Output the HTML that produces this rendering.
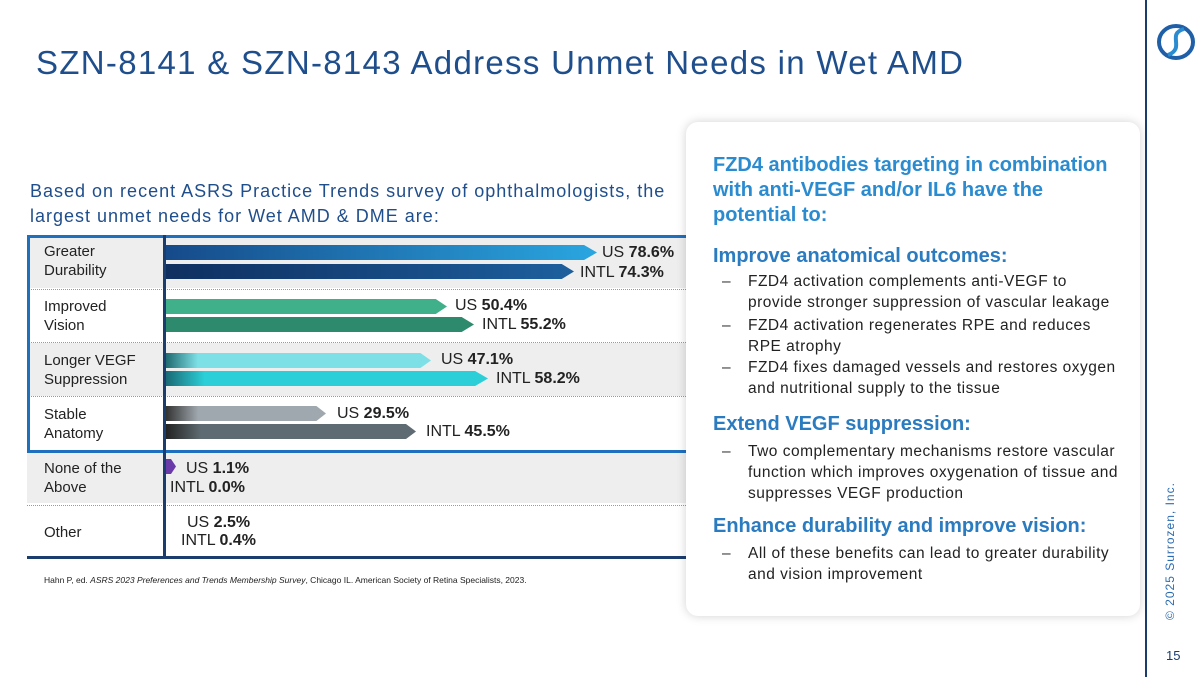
<!DOCTYPE html>
<html><head><meta charset="utf-8"><style>
*{margin:0;padding:0;box-sizing:border-box}
body{width:1200px;height:677px;background:#fff;position:relative;overflow:hidden;font-family:"Liberation Sans",sans-serif}
.a{position:absolute}
h1{position:absolute;left:36px;top:44px;font-size:33px;font-weight:400;color:#1f4e8c;letter-spacing:1.3px;white-space:nowrap}
.lbl{position:absolute;left:44px;font-size:15px;color:#222;line-height:19px}
.val{position:absolute;font-size:16px;color:#222;white-space:nowrap}
.val b{font-weight:700}
.bar{position:absolute;left:166px;height:15px}
.band{position:absolute;left:27px;width:673px}
.dot{position:absolute;left:27px;width:673px;border-top:1px dotted #999}
.card{position:absolute;left:686px;top:122px;width:454px;height:494px;background:#fff;border-radius:12px;box-shadow:0 0 10px rgba(0,0,0,.18)}
.h{position:absolute;left:713px;color:#2a8bd0;font-weight:700;font-size:20px;line-height:25px;white-space:nowrap}
.t{position:absolute;left:748px;font-size:15.5px;letter-spacing:0.5px;color:#222;line-height:21px;width:378px}
.t:before{content:"–";position:absolute;left:-26px;color:#333}
</style></head><body>
<h1>SZN-8141 &amp; SZN-8143 Address Unmet Needs in Wet AMD</h1>
<div class="a" style="left:1145px;top:0;width:2px;height:677px;background:#1b3d6e"></div>
<svg class="a" style="left:1156px;top:22px" width="40" height="40" viewBox="0 0 40 40"><ellipse cx="20" cy="20" rx="17" ry="16" fill="none" stroke="#1f5fa8" stroke-width="4"/><path d="M28 7 C10 12 30 26 12 33" fill="none" stroke="#2a8bd0" stroke-width="4"/></svg>
<div class="a" style="left:1163px;top:620px;transform:rotate(-90deg);transform-origin:0 0;font-size:12px;color:#2a6bb0;white-space:nowrap;letter-spacing:1px">© 2025 Surrozen, Inc.</div>
<div class="a" style="left:1166px;top:648px;font-size:13px;color:#1b3d6e">15</div>

<div class="a" style="left:30px;top:179px;font-size:18px;letter-spacing:1px;color:#1f4e8c;line-height:25px;white-space:nowrap">Based on recent ASRS Practice Trends survey of ophthalmologists, the<br>largest unmet needs for Wet AMD &amp; DME are:</div>

<div class="band" style="top:236px;height:52px;background:#eee"></div>
<div class="band" style="top:343px;height:53px;background:#eee"></div>
<div class="band" style="top:452px;height:51px;background:#eee"></div>
<div class="dot" style="top:289px"></div><div class="dot" style="top:342px"></div><div class="dot" style="top:396px"></div><div class="dot" style="top:505px"></div>
<div class="a" style="left:27px;top:235px;width:673px;height:3px;background:#1f6fbf"></div>
<div class="a" style="left:27px;top:235px;width:3px;height:217px;background:#1f6fbf"></div>
<div class="a" style="left:27px;top:450px;width:673px;height:3px;background:#1f6fbf"></div>
<div class="a" style="left:27px;top:556px;width:673px;height:3px;background:#1b3d6e"></div>
<div class="a" style="left:163px;top:235px;width:3px;height:322px;background:#1b3d6e"></div>

<div class="lbl" style="top:242px">Greater<br>Durability</div>
<div class="lbl" style="top:297px">Improved<br>Vision</div>
<div class="lbl" style="top:351px">Longer VEGF<br>Suppression</div>
<div class="lbl" style="top:405px">Stable<br>Anatomy</div>
<div class="lbl" style="top:459px">None of the<br>Above</div>
<div class="lbl" style="top:523px">Other</div>

<div class="bar" style="top:245px;width:431px;background:linear-gradient(90deg,#164a8a,#2aa6e0);clip-path:polygon(0 0,97% 0,100% 50%,97% 100%,0 100%)"></div>
<div class="bar" style="top:264px;width:408px;background:linear-gradient(90deg,#0f2f60,#1d5f9e);clip-path:polygon(0 0,97% 0,100% 50%,97% 100%,0 100%)"></div>
<div class="bar" style="top:299px;width:281px;background:#3fb08a;clip-path:polygon(0 0,96% 0,100% 50%,96% 100%,0 100%)"></div>
<div class="bar" style="top:317px;width:308px;background:#2e8a6c;clip-path:polygon(0 0,96% 0,100% 50%,96% 100%,0 100%)"></div>
<div class="bar" style="top:353px;width:265px;background:linear-gradient(90deg,#1f6a70,#7de0e6 12%);clip-path:polygon(0 0,96% 0,100% 50%,96% 100%,0 100%)"></div>
<div class="bar" style="top:371px;width:322px;background:linear-gradient(90deg,#1a6a75,#2ccfd8 12%);clip-path:polygon(0 0,96% 0,100% 50%,96% 100%,0 100%)"></div>
<div class="bar" style="top:406px;width:160px;background:linear-gradient(90deg,#333,#9fa8ae 20%);clip-path:polygon(0 0,94% 0,100% 50%,94% 100%,0 100%)"></div>
<div class="bar" style="top:424px;width:250px;background:linear-gradient(90deg,#222,#5e6b72 14%);clip-path:polygon(0 0,96% 0,100% 50%,96% 100%,0 100%)"></div>
<div class="bar" style="top:459px;width:10px;background:#6a3aa8;clip-path:polygon(0 0,50% 0,100% 50%,50% 100%,0 100%)"></div>

<div class="val" style="left:602px;top:244px">US <b>78.6%</b></div>
<div class="val" style="left:580px;top:264px">INTL <b>74.3%</b></div>
<div class="val" style="left:455px;top:297px">US <b>50.4%</b></div>
<div class="val" style="left:482px;top:316px">INTL <b>55.2%</b></div>
<div class="val" style="left:441px;top:351px">US <b>47.1%</b></div>
<div class="val" style="left:496px;top:370px">INTL <b>58.2%</b></div>
<div class="val" style="left:337px;top:405px">US <b>29.5%</b></div>
<div class="val" style="left:426px;top:423px">INTL <b>45.5%</b></div>
<div class="val" style="left:186px;top:460px">US <b>1.1%</b></div>
<div class="val" style="left:170px;top:479px">INTL <b>0.0%</b></div>
<div class="val" style="left:187px;top:514px">US <b>2.5%</b></div>
<div class="val" style="left:181px;top:532px">INTL <b>0.4%</b></div>

<div class="a" style="left:44px;top:575px;font-size:8.5px;color:#222">Hahn P, ed. <i>ASRS 2023 Preferences and Trends Membership Survey</i>, Chicago IL. American Society of Retina Specialists, 2023.</div>

<div class="card"></div>
<div class="h" style="top:153px">FZD4 antibodies targeting in combination<br>with anti-VEGF and/or IL6 have the<br>potential to:</div>
<div class="h" style="top:244px;color:#2a7bc0">Improve anatomical outcomes:</div>
<div class="t" style="top:271px">FZD4 activation complements anti-VEGF to provide stronger suppression of vascular leakage</div>
<div class="t" style="top:315px">FZD4 activation regenerates RPE and reduces RPE atrophy</div>
<div class="t" style="top:357px">FZD4 fixes damaged vessels and restores oxygen and nutritional supply to the tissue</div>
<div class="h" style="top:412px;color:#2a7bc0">Extend VEGF suppression:</div>
<div class="t" style="top:441px">Two complementary mechanisms restore vascular function which improves oxygenation of tissue and suppresses VEGF production</div>
<div class="h" style="top:514px;color:#2a7bc0">Enhance durability and improve vision:</div>
<div class="t" style="top:543px">All of these benefits can lead to greater durability and vision improvement</div>
</body></html>
